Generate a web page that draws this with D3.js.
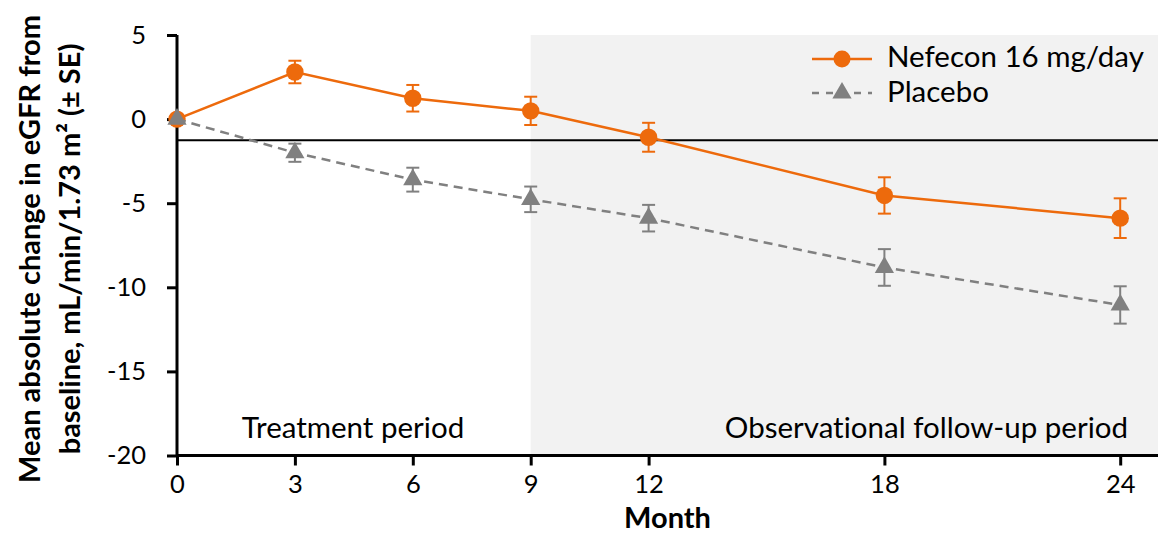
<!DOCTYPE html>
<html>
<head>
<meta charset="utf-8">
<script src="https://cdn.jsdelivr.net/npm/d3@7"></script>
<style>
  html, body { margin: 0; padding: 0; background: #fff; }
  svg { display: block; font-family: Lato, "Open Sans", sans-serif; font-variant-ligatures: none; }
</style>
</head>
<body>
<svg id="chart" width="1158" height="535"></svg>
<script>
// ---- data ----
const months = [0, 3, 6, 9, 12, 18, 24];
const nefeconMean = [0, 2.8, 1.24, 0.49, -1.08, -4.54, -5.89];
const nefeconSE = [0, 0.67, 0.79, 0.84, 0.86, 1.08, 1.18];
const placeboMean = [0, -2.0, -3.6, -4.77, -5.89, -8.82, -11.05];
const placeboSE = [0, 0.54, 0.71, 0.76, 0.79, 1.09, 1.11];
const xTicks = [0, 3, 6, 9, 12, 18, 24];
const yTicks = [5, 0, -5, -10, -15, -20];
const referenceLine = -1.25;
const followUpStart = 9;
const seriesNames = ["Nefecon 16 mg/day", "Placebo"];
const periodLabels = ["Treatment period", "Observational follow-up period"];
const xTitle = "Month";
const yTitleLines = ["Mean absolute change in eGFR from", "baseline, mL/min/1.73 m\u00B2 (\u00B1 SE)"];

// ---- styles ----
const ORANGE = "#ED6A0C";
const GRAY = "#808080";
const SHADE = "#F2F2F2";

const svg = d3.select("#chart");
const x = d3.scaleLinear().domain([0, 25]).range([177, 1159.5]);
const y = d3.scaleLinear().domain([-20, 5]).range([455.5, 35]);

// shaded follow-up region
svg.append("rect")
  .attr("x", x(followUpStart)).attr("y", y(5))
  .attr("width", x(25) - x(followUpStart) + 2)
  .attr("height", y(-20) - y(5))
  .attr("fill", SHADE);

// period labels
svg.append("text").attr("x", 353).attr("y", 438)
  .attr("text-anchor", "middle").attr("font-size", 29.5).attr("fill", "#000")
  .text(periodLabels[0]);
svg.append("text").attr("x", 1128).attr("y", 438)
  .attr("text-anchor", "end").attr("font-size", 29.5).attr("fill", "#000")
  .text(periodLabels[1]);

// reference line
svg.append("line")
  .attr("x1", x(0)).attr("x2", 1158)
  .attr("y1", y(referenceLine)).attr("y2", y(referenceLine))
  .attr("stroke", "#000").attr("stroke-width", 2);

// axes
const xAxis = d3.axisBottom(x).tickValues(xTicks).tickSize(10).tickPadding(9);
const gx = svg.append("g").attr("transform", `translate(0,${y(-20)})`).call(xAxis);
gx.select(".domain").attr("d", `M${x(0)},0H1158`).attr("stroke", "#000").attr("stroke-width", 3);
gx.selectAll(".tick line").attr("stroke", "#000").attr("stroke-width", 3);
gx.selectAll(".tick text").attr("font-size", 25.5).attr("fill", "#000").attr("font-family", "Lato, sans-serif");

const yAxis = d3.axisLeft(y).tickValues(yTicks).tickSize(10).tickPadding(21)
  .tickFormat(d => d);
const gy = svg.append("g").attr("transform", `translate(${x(0)},0)`).call(yAxis);
gy.select(".domain").attr("d", `M0,${y(5)}V${y(-20) + 1.5}`).attr("stroke", "#000").attr("stroke-width", 3);
gy.selectAll(".tick line").attr("stroke", "#000").attr("stroke-width", 3);
gy.selectAll(".tick text").attr("font-size", 25.5).attr("fill", "#000").attr("font-family", "Lato, sans-serif");

// axis titles
svg.append("text").attr("x", (x(0) + 1158) / 2).attr("y", 528)
  .attr("text-anchor", "middle").attr("font-size", 29).attr("font-weight", "bold")
  .text(xTitle);
yTitleLines.forEach((t, i) => {
  svg.append("text")
    .attr("transform", `translate(${40 + i * 40},249) rotate(-90)`)
    .attr("text-anchor", "middle").attr("font-size", 29).attr("font-weight", "bold")
    .text(t);
});

// series
const nef = months.map((m, i) => ({ m, v: nefeconMean[i], se: nefeconSE[i] }));
const pla = months.map((m, i) => ({ m, v: placeboMean[i], se: placeboSE[i] }));
const line = d3.line().x(d => x(d.m)).y(d => y(d.v));

function errorBars(data, color) {
  const g = svg.append("g");
  data.filter(d => d.se > 0).forEach(d => {
    const cx = x(d.m);
    g.append("line").attr("x1", cx).attr("x2", cx)
      .attr("y1", y(d.v + d.se)).attr("y2", y(d.v - d.se))
      .attr("stroke", color).attr("stroke-width", 2);
    [d.v + d.se, d.v - d.se].forEach(v => {
      g.append("line").attr("x1", cx - 6.5).attr("x2", cx + 6.5)
        .attr("y1", y(v)).attr("y2", y(v))
        .attr("stroke", color).attr("stroke-width", 2);
    });
  });
}

// Nefecon
errorBars(nef, ORANGE);
svg.append("path").datum(nef).attr("d", line)
  .attr("fill", "none").attr("stroke", ORANGE).attr("stroke-width", 2.5);
svg.append("g").selectAll("circle").data(nef).join("circle")
  .attr("cx", d => x(d.m)).attr("cy", d => y(d.v)).attr("r", 8.7)
  .attr("fill", ORANGE);

// Placebo
errorBars(pla, GRAY);
svg.append("path").datum(pla).attr("d", line)
  .attr("fill", "none").attr("stroke", GRAY).attr("stroke-width", 2.5)
  .attr("stroke-dasharray", "9,6");
const tri = d3.symbol().type(d3.symbolTriangle).size(160);
svg.append("g").selectAll("path").data(pla).join("path")
  .attr("d", tri)
  .attr("transform", d => `translate(${x(d.m)},${y(d.v)})`)
  .attr("fill", GRAY);

// legend
const lg = svg.append("g");
lg.append("line").attr("x1", 812).attr("x2", 872).attr("y1", 59).attr("y2", 59)
  .attr("stroke", ORANGE).attr("stroke-width", 2.5);
lg.append("circle").attr("cx", 842).attr("cy", 59).attr("r", 8.5).attr("fill", ORANGE);
lg.append("text").attr("x", 887).attr("y", 67).attr("font-size", 29.5).text(seriesNames[0]);
lg.append("line").attr("x1", 812).attr("x2", 872).attr("y1", 93).attr("y2", 93)
  .attr("stroke", GRAY).attr("stroke-width", 2.5).attr("stroke-dasharray", "7,7");
lg.append("path").attr("d", tri).attr("transform", "translate(842,93)").attr("fill", GRAY);
lg.append("text").attr("x", 887).attr("y", 102).attr("font-size", 29.5).text(seriesNames[1]);

// clipped footnote fragment at the bottom edge
svg.append("text").attr("x", 4).attr("y", 551).attr("font-size", 22)
  .attr("fill", ORANGE).text("Ni f");
</script>
</body>
</html>
